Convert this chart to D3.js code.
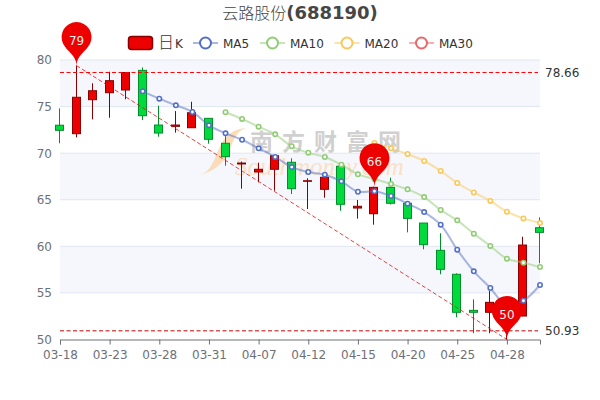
<!DOCTYPE html>
<html>
<head>
<meta charset="utf-8">
<script src="https://cdn.jsdelivr.net/npm/d3@7"></script>
<style>
    body { margin: 0; background: #fff; }
    text { font-family: "DejaVu Sans", sans-serif; }
</style>
</head>
<body>
<svg id="chart" width="600" height="400"></svg>
<script>
const dates = ["03-18", "03-21", "03-22", "03-23", "03-24", "03-25", "03-28", "03-29", "03-30", "03-31",
    "04-01", "04-06", "04-07", "04-08", "04-11", "04-12", "04-13", "04-14", "04-15", "04-18",
    "04-19", "04-20", "04-21", "04-22", "04-25", "04-26", "04-27", "04-28", "04-29", "05-05"];
const opens = [73.0, 72.09, 75.74, 76.49, 76.78, 78.89, 73.02, 72.88, 72.73, 73.74,
    71.06, 68.84, 67.98, 68.27, 69.02, 66.98, 66.12, 68.59, 64.11, 63.5,
    66.33, 64.62, 62.5, 59.57, 57.0, 53.13, 52.92, 52.6, 52.52, 62.0];
const closes = [72.45, 76.0, 76.7, 77.78, 78.66, 74.02, 72.16, 73.02, 74.34, 71.49,
    69.62, 68.94, 68.27, 69.73, 66.19, 67.04, 67.41, 64.51, 64.3, 66.33,
    64.62, 63.0, 60.18, 57.53, 52.92, 52.92, 53.99, 53.9, 60.14, 61.5];
const highs = [74.8, 79.4, 77.5, 78.74, 78.7, 79.2, 75.1, 74.52, 75.52, 73.74,
    72.13, 69.1, 68.98, 69.73, 69.45, 67.3, 67.5, 68.94, 64.97, 66.4,
    67.37, 64.7, 62.5, 61.4, 57.1, 54.31, 55.2, 54.2, 61.03, 63.1];
const lows = [71.06, 71.7, 73.63, 73.8, 75.78, 73.56, 71.77, 72.2, 72.7, 71.02,
    68.65, 66.19, 66.87, 65.97, 65.62, 64.0, 65.22, 63.82, 62.97, 62.32,
    64.5, 61.5, 59.68, 57.0, 52.38, 50.67, 50.67, 50.0, 52.5, 58.18];

const ma5 = [null, null, null, null, null, 76.64, 75.85, 75.14, 74.42, 72.99,
    72.13, 71.44, 70.52, 69.59, 68.51, 67.98, 67.69, 66.98, 65.86, 65.91,
    65.4, 64.58, 63.68, 62.32, 59.64, 57.32, 55.53, 53.6, 54.16, 55.85];
const ma10 = [null, null, null, null, null, null, null, null, null, null,
    74.39, 73.67, 72.84, 72.02, 70.74, 70.05, 69.59, 68.76, 67.73, 67.23,
    66.69, 66.12, 65.29, 63.9, 62.79, 61.36, 60.04, 58.67, 58.24, 57.78];
const ma20 = [null, null, null, null, null, null, null, null, null, null,
    null, null, null, null, null, null, null, null, null, 71.09,
    70.52, 69.91, 69.16, 68.09, 66.8, 65.78, 64.87, 63.72, 63.0, 62.5];

const maNames = ["MA5", "MA10", "MA20", "MA30"];
const maColors = ["#5470c6", "#91cc75", "#fac858", "#ee6666"];
const maSeries = [ma5, ma10, ma20];

const yTicks = [50, 55, 60, 65, 70, 75, 80];
const shadedBands = [[75, 80], [65, 70], [55, 60]];
const maxLine = 78.66;
const minLine = 50.93;
const pinIndex = [1, 19, 27];
const pinLabels = ["79", "66", "50"];

const svg = d3.select("#chart");

const x = d3.scalePoint().domain(dates).range([60, 540]);
const y = d3.scaleLinear().domain([50, 80]).range([339.5, 60]);

// split areas and grid lines
svg.selectAll(".band")
    .data(shadedBands)
    .enter()
    .append("rect")
    .attr("class", "band")
    .attr("x", 60)
    .attr("width", 480)
    .attr("y", d => y(d[1]))
    .attr("height", d => y(d[0]) - y(d[1]))
    .attr("fill", "#f6f7fc");

svg.selectAll(".grid")
    .data(yTicks.slice(1))
    .enter()
    .append("line")
    .attr("class", "grid")
    .attr("x1", 60)
    .attr("x2", 540)
    .attr("y1", d => y(d))
    .attr("y2", d => y(d))
    .attr("stroke", "#e0e6f1");

// watermark
const mark = svg.append("g");
mark.append("path")
    .attr("d", "M200,175 C222,168 212,130 247,128 C226,132 238,165 200,175 Z")
    .attr("fill", "#fbdcb8");
mark.append("text")
    .attr("x", 250)
    .attr("y", 150)
    .attr("font-size", "23px")
    .attr("font-weight", "bold")
    .attr("letter-spacing", "9px")
    .attr("fill", "#d0d0d0")
    .style("font-family", "'Noto Sans CJK SC'")
    .text("南方财富网");
mark.append("text")
    .attr("x", 235)
    .attr("y", 175)
    .attr("font-size", "25px")
    .attr("font-style", "italic")
    .attr("fill", "#fae0c4")
    .style("font-family", "'Liberation Serif'")
    .text("Southmoney.com");

// axes
const xAxis = d3.axisBottom(x)
    .tickValues(dates.filter((d, i) => i % 3 === 0))
    .tickSize(5)
    .tickPadding(6);
const gx = svg.append("g").attr("transform", "translate(0,339.5)").call(xAxis);
gx.selectAll(".domain, line").attr("stroke", "#6e7079");
gx.selectAll("text").attr("font-size", "12px").attr("fill", "#6e7079");
gx.attr("font-family", null);

const yAxis = d3.axisLeft(y).tickValues(yTicks).tickSize(0).tickPadding(8);
const gy = svg.append("g").attr("transform", "translate(60,0)").call(yAxis);
gy.select(".domain").remove();
gy.selectAll("text").attr("font-size", "12px").attr("fill", "#6e7079");
gy.attr("font-family", null);

// candles
const candles = svg.selectAll(".candle")
    .data(dates)
    .enter()
    .append("g")
    .attr("class", "candle");

const isUp = i => closes[i] >= opens[i];

candles.append("line")
    .attr("x1", d => Math.round(x(d)) - 0.5)
    .attr("x2", d => Math.round(x(d)) - 0.5)
    .attr("y1", (d, i) => y(highs[i]))
    .attr("y2", (d, i) => y(lows[i]))
    .attr("stroke", (d, i) => (isUp(i) ? "#8a0000" : "#008f28"));

candles.append("rect")
    .attr("x", d => Math.round(x(d)) - 4.5)
    .attr("width", 8)
    .attr("y", (d, i) => y(Math.max(opens[i], closes[i])))
    .attr("height", (d, i) => Math.abs(y(opens[i]) - y(closes[i])))
    .attr("fill", (d, i) => (isUp(i) ? "#ec0000" : "#00da3c"))
    .attr("stroke", (d, i) => (isUp(i) ? "#8a0000" : "#008f28"));

// moving averages
const maLine = d3.line()
    .defined(d => d !== null)
    .x((d, i) => x(dates[i]))
    .y(d => y(d))
    .curve(d3.curveCatmullRom.alpha(0.5));

maSeries.forEach((series, s) => {
    svg.append("path")
        .attr("d", maLine(series))
        .attr("fill", "none")
        .attr("stroke", maColors[s])
        .attr("stroke-width", 2)
        .attr("stroke-opacity", 0.5);

    svg.selectAll(".dot" + s)
        .data(series.map((v, i) => [i, v]).filter(d => d[1] !== null))
        .enter()
        .append("circle")
        .attr("class", "dot" + s)
        .attr("cx", d => x(dates[d[0]]))
        .attr("cy", d => y(d[1]))
        .attr("r", 2.2)
        .attr("fill", "#fff")
        .attr("stroke", maColors[s])
        .attr("stroke-width", 1.6);
});

// mark lines
[[maxLine, "#ff0000"], [minLine, "#c00000"]].forEach(([v, color]) => {
    svg.append("line")
        .attr("x1", 60)
        .attr("x2", 538)
        .attr("y1", y(v))
        .attr("y2", y(v))
        .attr("stroke", color)
        .attr("stroke-dasharray", "4,2.5");

    svg.append("text")
        .attr("x", 545)
        .attr("y", y(v))
        .attr("dy", "0.35em")
        .attr("font-size", "12px")
        .attr("fill", "#333")
        .text(v.toFixed(2));
});

svg.append("line")
    .attr("x1", x(dates[pinIndex[0]]))
    .attr("y1", y(highs[pinIndex[0]]))
    .attr("x2", x(dates[pinIndex[2]]))
    .attr("y2", y(lows[pinIndex[2]]))
    .attr("stroke", "#ff0000")
    .attr("stroke-width", 0.8)
    .attr("stroke-dasharray", "4,2.5");

// pins
function pinPath(px, py) {
    const r = 15, h = 50;
    const dy = r * r / (h - r);
    const cy = py - h + r + dy;
    const angle = Math.asin(dy / r);
    const dx = Math.cos(angle) * r;
    const tanX = Math.sin(angle);
    const tanY = Math.cos(angle);
    const p = d3.path();
    p.moveTo(px - dx, cy + dy);
    p.arc(px, cy, r, Math.PI - angle, Math.PI * 2 + angle);
    p.bezierCurveTo(px + dx - tanX * r * 0.6, cy + dy + tanY * r * 0.6, px, py - r * 0.7, px, py);
    p.bezierCurveTo(px, py - r * 0.7, px - dx + tanX * r * 0.6, cy + dy + tanY * r * 0.6, px - dx, cy + dy);
    p.closePath();
    return p.toString();
}

pinIndex.forEach((idx, k) => {
    const tipY = k === 2 ? y(lows[idx]) : y(highs[idx]);
    svg.append("path")
        .attr("d", pinPath(x(dates[idx]), tipY))
        .attr("fill", "#ec0000");
    svg.append("text")
        .attr("x", x(dates[idx]))
        .attr("y", tipY - 25)
        .attr("dy", "0.35em")
        .attr("text-anchor", "middle")
        .attr("font-size", "12px")
        .attr("fill", "#eee")
        .text(pinLabels[k]);
});

// title
const title = svg.append("text")
    .attr("x", 300)
    .attr("y", 19)
    .attr("text-anchor", "middle")
    .attr("fill", "#464646");
title.append("tspan")
    .attr("font-size", "16px")
    .style("font-family", "'Noto Sans CJK SC'")
    .style("font-weight", 300)
    .text("云路股份");
title.append("tspan")
    .attr("font-size", "18px")
    .attr("font-weight", "bold")
    .text("(688190)");

// legend
svg.append("rect")
    .attr("x", 128.5)
    .attr("y", 36.5)
    .attr("width", 24)
    .attr("height", 13)
    .attr("rx", 3)
    .attr("fill", "#ec0000")
    .attr("stroke", "#8a0000")
    .attr("stroke-width", 1.5);

svg.append("text")
    .attr("x", 158)
    .attr("y", 48)
    .attr("font-size", "12px")
    .attr("fill", "#333")
    .call(t => t.append("tspan")
        .attr("font-size", "16px")
        .style("font-family", "'Noto Sans CJK SC'")
        .style("font-weight", 300)
        .text("日"))
    .call(t => t.append("tspan").attr("dx", 1).text("K"));

const legendX = [205.5, 272.5, 347, 421.5];
maNames.forEach((name, i) => {
    svg.append("line")
        .attr("x1", legendX[i] - 12.5)
        .attr("x2", legendX[i] + 12.5)
        .attr("y1", 43)
        .attr("y2", 43)
        .attr("stroke", maColors[i])
        .attr("stroke-width", 2)
        .attr("stroke-opacity", 0.5);
    svg.append("circle")
        .attr("cx", legendX[i])
        .attr("cy", 43)
        .attr("r", 5.5)
        .attr("fill", "#fff")
        .attr("stroke", maColors[i])
        .attr("stroke-width", 2);
    svg.append("text")
        .attr("x", legendX[i] + 17.5)
        .attr("y", 47.5)
        .attr("font-size", "12px")
        .attr("fill", "#333")
        .text(name);
});
</script>
</body>
</html>
